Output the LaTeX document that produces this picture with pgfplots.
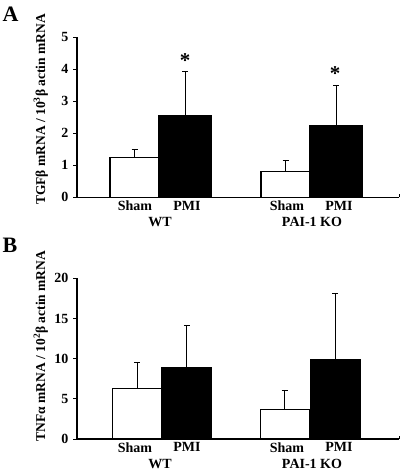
\documentclass[border=0pt]{standalone}
\usepackage{fontspec}
\setmainfont{Liberation Serif}
\usepackage{pgfplots}
\pgfplotsset{compat=1.18}
\pgfplotsset{
  panel/.style={
    scale only axis,
    anchor=south west,
    width=322bp,
    xmin=0, xmax=322,
    ymin=0,
    axis x line*=bottom,
    axis y line*=left,
    axis line style={-, line width=1.1bp, black},
    tick align=outside,
    major tick length=4bp,
    ytick style={line width=1bp, black},
    x tick style={draw=none},
    /pgf/number format/assume math mode=true,
    tick label style={font=\fontsize{14bp}{16bp}\selectfont\bfseries},
    yticklabel style={xshift=-1bp},
    xticklabel style={yshift=1.5bp, inner sep=1bp},
    clip=false,
    ybar, bar shift=0pt,
    error bars/y dir=plus, error bars/y explicit,
    error bars/error bar style={line width=1bp, black},
    error bars/error mark options={rotate=90, mark size=3bp, line width=1bp, black},
  },
}
\begin{document}
\begin{tikzpicture}
\path[use as bounding box] (0,0) rectangle (401bp,-473bp);
% Panel A
\begin{axis}[panel, at={(77bp,-197.3bp)}, height=160bp, ymax=5,
  ytick={0,1,2,3,4,5},
  xtick={58,110,210,262}, xticklabels={Sham,PMI,Sham,PMI}]
\addplot[draw=black, line width=1.1bp, fill=white, bar width=49]
  coordinates {(57.5,1.25) +- (0,0.24) (208.5,0.80) +- (0,0.34)};
\addplot[draw=black, line width=1.1bp, fill=black, bar width=52]
  coordinates {(108,2.56) +- (0,1.36) (259,2.24) +- (0,1.24)};
\draw[line width=1bp] (axis cs:322,0) -- (axis cs:322,0.1);
\node[font=\fontsize{21bp}{21bp}\selectfont\bfseries] at (axis cs:108,4.28) {*};
\node[font=\fontsize{21bp}{21bp}\selectfont\bfseries] at (axis cs:258,3.88) {*};
\node[inner sep=0pt, font=\fontsize{14bp}{16bp}\selectfont\bfseries] at (axis cs:83,0) [yshift=-25bp] {WT};
\node[inner sep=0pt, font=\fontsize{14bp}{16bp}\selectfont\bfseries] at (axis cs:235,0) [yshift=-25bp] {PAI-1 KO};
\end{axis}
\node[rotate=90, anchor=base, font=\fontsize{13.5bp}{16bp}\selectfont\bfseries] at (45bp,-109.5bp) {TGFβ mRNA / 10\textsuperscript{3}β actin mRNA};
\node[anchor=base west, inner sep=0pt, font=\fontsize{22bp}{22bp}\selectfont\bfseries] at (2.5bp,-21bp) {A};
% Panel B
\begin{axis}[panel, at={(77bp,-439bp)}, height=160.7bp, ymax=20,
  ytick={0,5,10,15,20},
  xtick={58,110,210,262}, xticklabels={Sham,PMI,Sham,PMI}]
\addplot[draw=black, line width=1.1bp, fill=white, bar width=49]
  coordinates {(60.2,6.31) +- (0,3.19) (207.7,3.70) +- (0,2.30)};
\addplot[draw=black, line width=1.1bp, fill=black, bar width=50]
  coordinates {(109.8,8.93) +- (0,5.17) (258.3,9.92) +- (0,8.13)};
\draw[line width=1bp] (axis cs:322,0) -- (axis cs:322,0.4);
\node[inner sep=0pt, font=\fontsize{14bp}{16bp}\selectfont\bfseries] at (axis cs:83,0) [yshift=-25bp] {WT};
\node[inner sep=0pt, font=\fontsize{14bp}{16bp}\selectfont\bfseries] at (axis cs:235,0) [yshift=-25bp] {PAI-1 KO};
\end{axis}
\node[rotate=90, anchor=base, font=\fontsize{13.5bp}{16bp}\selectfont\bfseries] at (45bp,-346bp) {TNFα mRNA / 10\textsuperscript{2}β actin mRNA};
\node[anchor=base west, inner sep=0pt, font=\fontsize{22bp}{22bp}\selectfont\bfseries] at (2.5bp,-252bp) {B};
\end{tikzpicture}
\end{document}
